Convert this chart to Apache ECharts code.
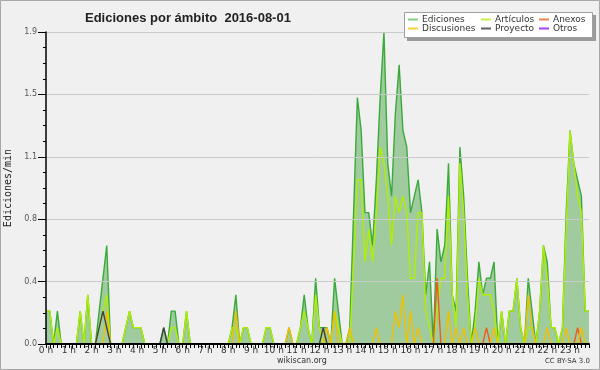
<!DOCTYPE html>
<html><head><meta charset="utf-8">
<script src="https://cdn.jsdelivr.net/npm/echarts@6/dist/echarts.min.js"></script>
<style>html,body{margin:0;padding:0;background:#F0F0F0}#c{width:600px;height:370px}</style>
</head><body><div id="c"></div>
<script>
const hourLabels = ['0 h','1 h','2 h','3 h','4 h','5 h','6 h','7 h','8 h','9 h','10 h','11 h',
  '12 h','13 h','14 h','15 h','16 h','17 h','18 h','19 h','20 h','21 h','22 h','23 h'];
const categories = [];
for (let h = 0; h < 24; h++) for (let m = 0; m < 60; m += 10) categories.push(h + ':' + (m < 10 ? '0' : '') + m);

const ediciones = [
  0.2,0.2,0,0.2,0,0,0,0,0,0.2,0,0.3,
  0,0,0.2,0.4,0.6,0,0,0,0,0.1,0.2,0.1,
  0.1,0.1,0,0,0,0,0,0.1,0,0.2,0.2,0,
  0,0.2,0,0,0,0,0,0,0,0,0,0,
  0,0.1,0.3,0,0.1,0.1,0,0,0,0,0.1,0.1,
  0,0,0,0,0.1,0,0,0.1,0.3,0.1,0,0.4,
  0.1,0.1,0.1,0,0.4,0.2,0,0,0.1,0.8,1.5,1.3,
  0.8,0.8,0.6,1.0,1.5,1.9,1.1,0.9,1.4,1.7,1.3,1.2,
  0.8,0.9,1.0,0.8,0.3,0.5,0,0.7,0.5,0.6,1.1,0.3,
  0.2,1.2,0.9,0.4,0,0.2,0.5,0.3,0.4,0.4,0.5,0,
  0.2,0,0.2,0.2,0.4,0.1,0,0.4,0.2,0,0.2,0.6,
  0.5,0.1,0.1,0,0.1,0.8,1.3,1.1,1.0,0.9,0.2,0.2
];
const articulos = [
  0.2,0.2,0,0.1,0,0,0,0,0,0.2,0,0.3,
  0,0,0.1,0.2,0.3,0,0,0,0,0.1,0.2,0.1,
  0.1,0.1,0,0,0,0,0,0,0,0.1,0.1,0,
  0,0.2,0,0,0,0,0,0,0,0,0,0,
  0,0.1,0.1,0,0.1,0.1,0,0,0,0,0.1,0.1,
  0,0,0,0,0,0,0,0.1,0.2,0.1,0,0.3,
  0.1,0,0,0,0.2,0.1,0,0,0,0.5,1.0,1.0,
  0.5,0.7,0.5,0.8,1.2,1.1,0.9,0.6,0.9,0.8,0.9,0.8,
  0.4,0.4,0.8,0.8,0.2,0.1,0,0.2,0.4,0.4,0.9,0.3,
  0.1,1.1,0.8,0.3,0,0.1,0.4,0.3,0.3,0.3,0.2,0,
  0.2,0,0.2,0.2,0.4,0.1,0,0.1,0.1,0,0.2,0.6,
  0.4,0.1,0.1,0,0.1,0.7,1.3,1.1,0.9,0.8,0.2,0.2
];
const anexos = [
  0,0,0,0,0,0,0,0,0,0,0,0,
  0,0,0,0,0,0,0,0,0,0,0,0,
  0,0,0,0,0,0,0,0,0,0,0,0,
  0,0,0,0,0,0,0,0,0,0,0,0,
  0,0,0,0,0,0,0,0,0,0,0,0,
  0,0,0,0,0,0,0,0,0,0,0,0,
  0,0,0,0,0,0,0,0,0,0,0,0,
  0,0,0,0,0,0,0,0,0,0,0,0,
  0,0,0,0,0,0,0,0.4,0,0,0,0,
  0,0,0,0,0,0,0,0,0.1,0,0,0,
  0,0,0,0,0,0,0,0,0,0,0,0,
  0,0,0,0,0,0,0,0,0.1,0,0,0
];
const discusiones = [
  0,0,0,0,0,0,0,0,0,0,0,0,
  0,0,0,0,0.2,0,0,0,0,0,0,0,
  0,0,0,0,0,0,0,0,0,0,0,0,
  0,0,0,0,0,0,0,0,0,0,0,0,
  0,0,0.2,0,0,0,0,0,0,0,0,0,
  0,0,0,0,0.1,0,0,0,0,0,0,0,
  0,0,0.1,0,0.2,0,0,0,0.1,0,0,0,
  0,0,0,0.1,0,0,0,0,0.2,0.1,0.3,0,
  0.2,0,0.1,0,0,0,0,0,0,0,0.2,0,
  0.1,0,0.1,0,0,0.1,0,0,0,0,0.1,0,
  0,0,0,0,0,0,0,0.3,0.1,0,0,0,
  0.1,0,0,0,0,0.1,0,0,0,0.1,0,0
];
const proyecto = [
  0,0,0,0,0,0,0,0,0,0,0,0,
  0,0,0.1,0.2,0.1,0,0,0,0,0,0,0,
  0,0,0,0,0,0,0,0.1,0,0,0,0,
  0,0,0,0,0,0,0,0,0,0,0,0,
  0,0,0,0,0,0,0,0,0,0,0,0,
  0,0,0,0,0,0,0,0,0,0,0,0,
  0,0.1,0,0,0,0,0,0,0,0,0,0,
  0,0,0,0,0,0,0,0,0,0,0,0,
  0,0,0,0,0,0,0,0,0,0,0,0,
  0,0,0,0,0,0,0,0,0,0,0,0,
  0,0,0,0,0,0,0,0,0,0,0,0,
  0,0,0,0,0,0,0,0,0,0,0,0
];
const otros = [
  0,0,0,0,0,0,0,0,0,0,0,0,
  0,0,0,0,0,0,0,0,0,0,0,0,
  0,0,0,0,0,0,0,0,0,0,0,0,
  0,0,0,0,0,0,0,0,0,0,0,0,
  0,0,0,0,0,0,0,0,0,0,0,0,
  0,0,0,0,0,0,0,0,0,0,0,0,
  0,0,0,0,0,0,0,0,0,0,0,0,
  0,0,0,0,0,0,0,0,0,0,0,0,
  0,0,0,0,0,0,0,0,0,0,0,0,
  0,0,0,0,0,0,0,0,0,0,0,0,
  0,0,0,0,0,0,0,0,0,0,0,0,
  0,0,0,0,0,0,0,0,0,0,0,0
];

const FONT = 'DejaVu Sans';
function lineSeries(name, data, color, z) {
  return { name, type: 'line', data, symbol: 'none', z,
    lineStyle: { color, width: 1.4 }, itemStyle: { color }, animation: false };
}
const legendCommon = {
  orient: 'vertical', top: 15, itemWidth: 10, itemHeight: 2, itemGap: 0, padding: 0,
  icon: 'rect', z: 20, selectedMode: false,
  textStyle: { fontSize: 9, lineHeight: 9, color: '#333', fontFamily: FONT, padding: [0,0,0,-1] }
};

const chart = echarts.init(document.getElementById('c'), null, { renderer: 'canvas' });
chart.setOption({
  animation: false,
  backgroundColor: '#F0F0F0',
  title: { text: 'Ediciones por ámbito  2016-08-01', left: 80, top: 7,
    textStyle: { fontSize: 13, fontWeight: 'bold', color: '#222', fontFamily: 'Liberation Sans' } },
  grid: { left: 46, right: 11, top: 32, bottom: 26, containLabel: false, outerBoundsMode: 'none' },
  legend: [
    Object.assign({}, legendCommon, { left: 408, data: [
      { name: 'Ediciones', itemStyle: { color: '#80D080' } },
      { name: 'Discusiones', itemStyle: { color: '#F8D040' } } ] }),
    Object.assign({}, legendCommon, { left: 481, data: [
      { name: 'Artículos', itemStyle: { color: '#C8F040' } },
      { name: 'Proyecto', itemStyle: { color: '#606060' } } ] }),
    Object.assign({}, legendCommon, { left: 539, data: [
      { name: 'Anexos', itemStyle: { color: '#F08050' } },
      { name: 'Otros', itemStyle: { color: '#A040F0' } } ] })
  ],
  xAxis: {
    type: 'category', data: categories, boundaryGap: false, z: 10,
    axisLine: { lineStyle: { color: '#000', width: 2 } },
    axisTick: { interval: 0, length: 4, lineStyle: { color: '#000', width: 1 } },
    axisLabel: { interval: (idx) => idx % 6 === 0, formatter: (v, idx) => hourLabels[idx / 6],
      fontSize: 9, color: '#333', margin: 2, fontFamily: FONT },
    splitLine: { show: false }
  },
  yAxis: {
    type: 'value', min: 0, max: 1.9, interval: 0.38, z: 10,
    name: 'Ediciones/min', nameLocation: 'middle', nameRotate: 90, nameGap: 31,
    nameTextStyle: { fontSize: 10, color: '#222', fontFamily: 'DejaVu Sans Mono' },
    axisLine: { show: true, lineStyle: { color: '#000', width: 1.5 } },
    axisTick: { show: true, length: 8, lineStyle: { color: '#000' } },
    minorTick: { show: true, splitNumber: 4, length: 3, lineStyle: { color: '#000' } },
    axisLabel: { formatter: (v) => v.toFixed(1), fontSize: 8, color: '#555', margin: 9, fontFamily: FONT },
    splitLine: { show: true, lineStyle: { color: '#CACACA', width: 1 } }
  },
  series: [
    { name: 'Ediciones', type: 'line', data: ediciones, symbol: 'none', z: 2,
      lineStyle: { color: '#3AAA3A', width: 1.4 }, itemStyle: { color: '#3AAA3A' },
      areaStyle: { color: '#9FCB9F', opacity: 1 } },
    lineSeries('Artículos', articulos, '#B2EE00', 3),
    lineSeries('Anexos', anexos, '#F05A1E', 4),
    lineSeries('Discusiones', discusiones, '#F0C000', 4),
    lineSeries('Proyecto', proyecto, '#404040', 5),
    lineSeries('Otros', otros, '#A040F0', 5)
  ],
  graphic: [
    { type: 'rect', z: -10, silent: true, shape: { x: 0.5, y: 0.5, width: 599, height: 369 },
      style: { fill: 'none', stroke: '#A8A8A8', lineWidth: 1 } },
    { type: 'rect', z: 15, silent: true, shape: { x: 407, y: 15, width: 189, height: 26 },
      style: { fill: '#9A9A9A' } },
    { type: 'rect', z: 16, silent: true, shape: { x: 404.5, y: 12.5, width: 188, height: 25 },
      style: { fill: '#FFFFFF', stroke: '#A0A0A0', lineWidth: 1 } },
    { type: 'text', z: 16, left: 277, top: 357, silent: true,
      style: { text: 'wikiscan.org', fontSize: 8, fill: '#333', fontFamily: FONT } },
    { type: 'text', z: 16, right: 10, top: 358, silent: true,
      style: { text: 'CC BY-SA 3.0', fontSize: 7, fill: '#333', fontFamily: FONT } }
  ]
});
</script>
</body></html>
